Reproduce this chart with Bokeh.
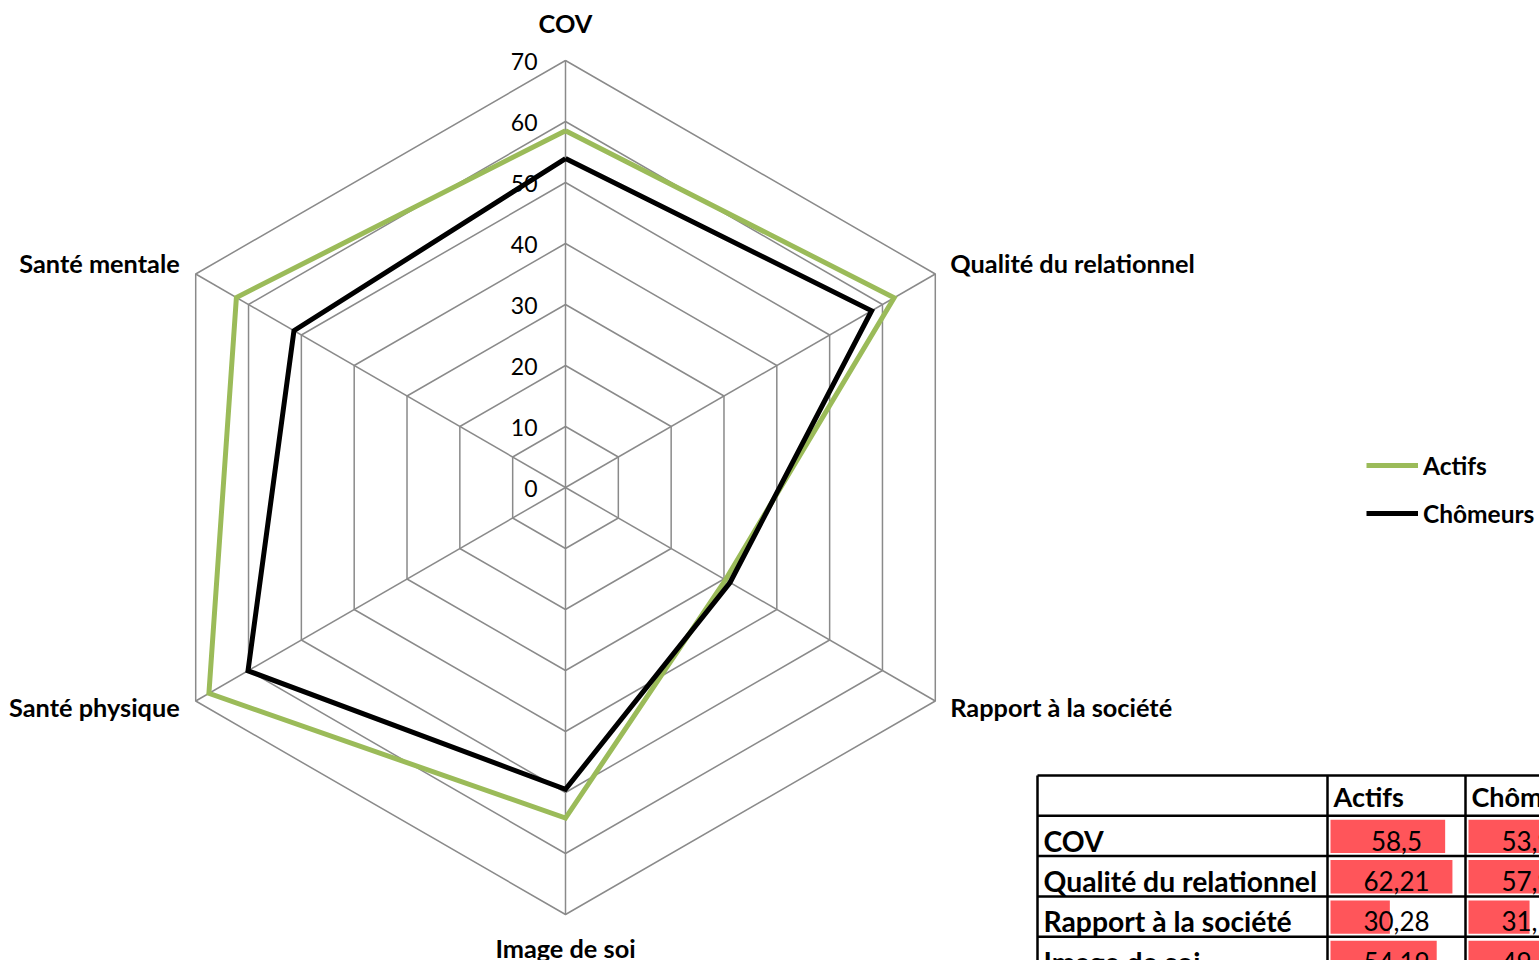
import math
from bokeh.plotting import figure
from bokeh.models import Range1d, Legend, LegendItem
from bokeh.embed import file_html
from bokeh.resources import INLINE
from bokeh.core.properties import value

# ---------------- data ----------------
categories = ["COV", "Qualité du relationnel", "Rapport à la société",
              "Image de soi", "Santé physique", "Santé mentale"]
actifs = [58.5, 62.21, 30.28, 54.19, 67.5, 62.3]
chomeurs = [53.92, 57.95, 31.15, 49.47, 60.1, 51.4]
series_names = ["Actifs", "Chômeurs"]
ticks = [0, 10, 20, 30, 40, 50, 60, 70]

# ---------------- layout constants ----------------
W, H = 1539, 960
FONT = "Lato"
GREEN = "#9BBB59"
BLACK = "#000000"
GRID = "#8A8A8A"
CX, CY = 565.0, 487.0          # radar centre (page px)
SCALE = 427.0 / 70.0           # px per unit
ANGLES = [90, 30, -30, -90, -150, 150]
TDY = -10.5                    # text baseline correction

p = figure(width=W, height=H, output_backend="svg", toolbar_location=None,
           x_range=Range1d(0, W), y_range=Range1d(H, 0),
           min_border=0, x_axis_location=None, y_axis_location=None)
p.grid.visible = False
p.outline_line_color = None
p.background_fill_color = "white"
p.border_fill_color = "white"


def polar(v, ang):
    a = math.radians(ang)
    return CX + v * SCALE * math.cos(a), CY - v * SCALE * math.sin(a)


# grid hexagons
gx, gy = [], []
for t in ticks[1:]:
    pts = [polar(t, a) for a in ANGLES] + [polar(t, ANGLES[0])]
    gx.append([q[0] for q in pts])
    gy.append([q[1] for q in pts])
p.multi_line(gx, gy, line_color=GRID, line_width=1.5)

# spokes
ends = [polar(ticks[-1], a) for a in ANGLES]
p.segment(x0=[CX] * len(ends), y0=[CY] * len(ends),
          x1=[e[0] for e in ends], y1=[e[1] for e in ends],
          line_color=GRID, line_width=1.5)

# tick labels
p.text(x=[CX - 28] * len(ticks), y=[CY - t * SCALE + 11 + TDY for t in ticks],
       text=[str(t) for t in ticks], text_align="right",
       text_baseline="alphabetic", text_font=value(FONT),
       text_font_size="23px", text_color="#000000")

# series
renderers = []
for vals, col in [(actifs, GREEN), (chomeurs, BLACK)]:
    pts = [polar(v, a) for v, a in zip(vals, ANGLES)]
    pts.append(pts[0])
    r = p.line([q[0] for q in pts], [q[1] for q in pts], line_color=col,
               line_width=5, line_join="miter")
    renderers.append(r)

# category labels (offsets from the 70 vertex)
label_off = [(0, -27, "center"), (15, -0.5, "left"), (15, 16.5, "left"),
             (0, 44, "center"), (-16, 16.5, "right"), (-16, -0.5, "right")]
for cat, ang, (dx, dy, al) in zip(categories, ANGLES, label_off):
    vx, vy = polar(ticks[-1], ang)
    p.text(x=[vx + dx], y=[vy + dy + TDY], text=[cat], text_align=al,
           text_baseline="alphabetic", text_font=value(FONT),
           text_font_style="bold", text_font_size="25.3px", text_color="#000000")

# legend
legend = Legend(items=[LegendItem(label=n, renderers=[r]) for n, r in zip(series_names, renderers)],
                location=(1366, 432), orientation="vertical",
                glyph_width=52, glyph_height=30, label_height=30,
                label_standoff=5, spacing=18, padding=0, margin=0,
                border_line_alpha=0, background_fill_alpha=0,
                label_text_font=FONT, label_text_font_style="bold",
                label_text_font_size="24.5px", label_text_color="#000000")
p.add_layout(legend, "center")

# ---------------- table with data bars ----------------
COL_EDGES = [1037, 1327, 1465, 1603]
T_TOP = 775
ROW_H = 40.3
BAR_K = 1.96
row_edges = [T_TOP + i * ROW_H for i in range(len(categories) + 2)]
# only rows that start inside the page are drawn
vis = [i for i in range(len(categories)) if row_edges[i + 1] < H]
last_edge = min(row_edges[vis[-1] + 2], H + 5)

# data bars
bl, br, bt, bb = [], [], [], []
for ci, vals in enumerate([actifs, chomeurs]):
    x0 = COL_EDGES[ci + 1] + 3
    for ri in vis:
        top = row_edges[ri + 1]
        bl.append(x0)
        br.append(x0 + vals[ri] * BAR_K)
        bt.append(top + 4)
        bb.append(top + ROW_H - 3)
p.quad(left=bl, right=br, top=bt, bottom=bb, fill_color="#FF555A", line_color=None)

# table rules
hy = [row_edges[i] for i in range(vis[-1] + 2)]
p.segment(x0=[COL_EDGES[0]] * len(hy), y0=hy, x1=[COL_EDGES[-1]] * len(hy), y1=hy,
          line_color="#000000", line_width=2.5)
p.segment(x0=COL_EDGES, y0=[row_edges[0]] * len(COL_EDGES),
          x1=COL_EDGES, y1=[last_edge] * len(COL_EDGES),
          line_color="#000000", line_width=2.5)

# header
p.text(x=[COL_EDGES[1] + 6, COL_EDGES[2] + 6], y=[row_edges[1] - 9 + TDY] * 2,
       text=series_names, text_align="left", text_baseline="alphabetic",
       text_font=value(FONT), text_font_style="bold", text_font_size="27px",
       text_color="#000000")
# row labels
p.text(x=[COL_EDGES[0] + 6] * len(vis), y=[row_edges[i + 2] - 5 + TDY for i in vis],
       text=[categories[i] for i in vis], text_align="left", text_baseline="alphabetic",
       text_font=value(FONT), text_font_style="bold", text_font_size="28.3px",
       text_color="#000000")
# values
for ci, vals in enumerate([actifs, chomeurs]):
    cx = (COL_EDGES[ci + 1] + COL_EDGES[ci + 2]) / 2
    p.text(x=[cx] * len(vis), y=[row_edges[i + 2] - 5 + TDY for i in vis],
           text=[str(vals[i]).replace(".", ",") for i in vis], text_align="center",
           text_baseline="alphabetic", text_font=value(FONT),
           text_font_size="26px", text_color="#000000")

open("out.html", "w").write(file_html(p, INLINE))
